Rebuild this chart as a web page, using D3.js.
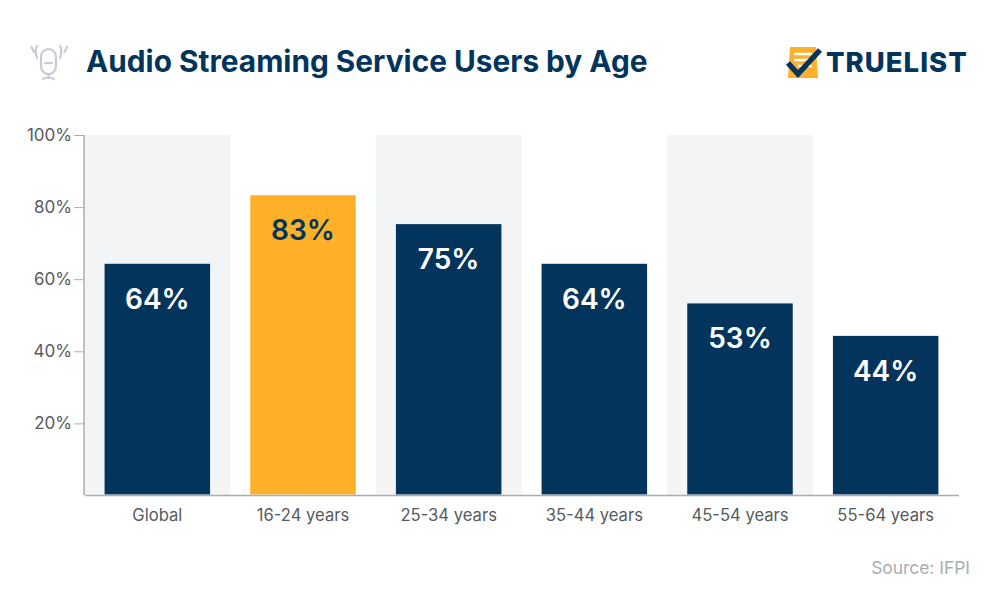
<!DOCTYPE html>
<html>
<head>
<meta charset="utf-8">
<style>
    html, body { margin: 0; padding: 0; background: #fff; }
    svg { display: block; font-family: Inter, "Open Sans", sans-serif; }
</style>
</head>
<body>
<script src="https://d3js.org/d3.v7.min.js"></script>
<script>
    const categories = ["Global", "16-24 years", "25-34 years", "35-44 years", "45-54 years", "55-64 years"];
    const values = [64, 83, 75, 64, 53, 44];
    const y_ticks = [20, 40, 60, 80, 100];
    const highlighted = "16-24 years";

    const svg_w = 1000, svg_h = 600;
    const navy = "#03355c", orange = "#feb029", grey_text = "#555b61", axis_grey = "#a9adb2";

    let svg = d3.select("body").append("svg")
        .attr("width", svg_w)
        .attr("height", svg_h);

    let x_scale = d3.scaleBand().domain(categories).range([84.5, 958.5]);
    let y_scale = d3.scaleLinear().domain([0, 100]).range([494.5, 134]);
    let bar_w = 105.5;

    // alternating background stripes
    svg.selectAll(".stripe")
        .data(categories.filter((d, i) => i % 2 == 0))
        .enter().append("rect")
        .attr("x", d => x_scale(d))
        .attr("y", 135)
        .attr("width", x_scale.bandwidth())
        .attr("height", 360)
        .attr("fill", "#f3f4f6");

    // bars
    let centre = i => x_scale(categories[i]) + x_scale.bandwidth() / 2;
    svg.selectAll(".bar")
        .data(values)
        .enter().append("rect")
        .attr("x", (d, i) => centre(i) - bar_w / 2)
        .attr("y", d => y_scale(d))
        .attr("width", bar_w)
        .attr("height", d => y_scale(0) - y_scale(d))
        .attr("fill", (d, i) => categories[i] == highlighted ? orange : navy);

    // value labels
    svg.selectAll(".val")
        .data(values)
        .enter().append("text")
        .attr("x", (d, i) => centre(i))
        .attr("y", d => y_scale(d) + 45)
        .attr("text-anchor", "middle")
        .attr("font-size", 28)
        .attr("font-weight", 600)
        .attr("fill", (d, i) => categories[i] == highlighted ? navy : "#fff")
        .text(d => d + "%");

    // axes
    let x_axis = d3.axisBottom(x_scale).tickSize(0).tickPadding(14);
    let y_axis = d3.axisLeft(y_scale).tickValues(y_ticks).tickSize(10).tickPadding(2).tickFormat(d => d + "%");

    let gx = svg.append("g").attr("transform", "translate(0,495)").call(x_axis);
    gx.select(".domain").attr("stroke", axis_grey).attr("stroke-width", 1.5);
    gx.selectAll("text").attr("font-size", 16.6).attr("font-family", "Inter").attr("fill", grey_text);

    let gy = svg.append("g").attr("transform", "translate(84,1)").call(y_axis);
    gy.select(".domain").attr("d", "M0,135V495").attr("transform", "translate(0,-1)").attr("stroke", axis_grey).attr("stroke-width", 1.5);
    gy.selectAll("line").attr("stroke", axis_grey);
    gy.selectAll("text").attr("font-size", 17).attr("font-family", "Inter").attr("fill", grey_text);

    // title
    svg.append("text")
        .attr("x", 86).attr("y", 72)
        .attr("font-size", 29.8)
        .attr("font-weight", 700)
        .attr("fill", navy)
        .text("Audio Streaming Service Users by Age");

    // source
    svg.append("text")
        .attr("x", 970).attr("y", 574)
        .attr("text-anchor", "end")
        .attr("font-size", 17.4)
        .attr("fill", "#a9adb2")
        .text("Source: IFPI");

    // microphone icon
    let mic = svg.append("g")
        .attr("fill", "none")
        .attr("stroke", "#c5ccd5")
        .attr("stroke-width", 2.2)
        .attr("stroke-linecap", "round");
    mic.append("rect").attr("x", 41).attr("y", 49).attr("width", 15).attr("height", 25).attr("rx", 7.5);
    mic.append("path").attr("d", "M45,63H52M48.5,74V78M43,79Q48.5,76 54,79");
    mic.append("path").attr("d", "M31.5,47L34,52M37,46Q34.5,50 37,58M60,46Q62.5,50 60,58M67,47L64.5,52");

    // logo
    let logo = svg.append("g");
    logo.append("path").attr("d", "M790,47H816L818,78H788Z").attr("fill", orange);
    logo.append("path").attr("d", "M794,54H812M794,60H812M798,66H812")
        .attr("stroke", "#fff").attr("stroke-width", 2.5).attr("fill", "none");
    logo.append("path").attr("d", "M788,63L798,74L820,50")
        .attr("stroke", navy).attr("stroke-width", 5.5).attr("fill", "none");
    logo.append("text")
        .attr("x", 826).attr("y", 72)
        .attr("font-size", 27.5)
        .attr("font-weight", 800)
        .attr("letter-spacing", 1)
        .attr("fill", navy)
        .text("TRUELIST");
</script>
</body>
</html>
